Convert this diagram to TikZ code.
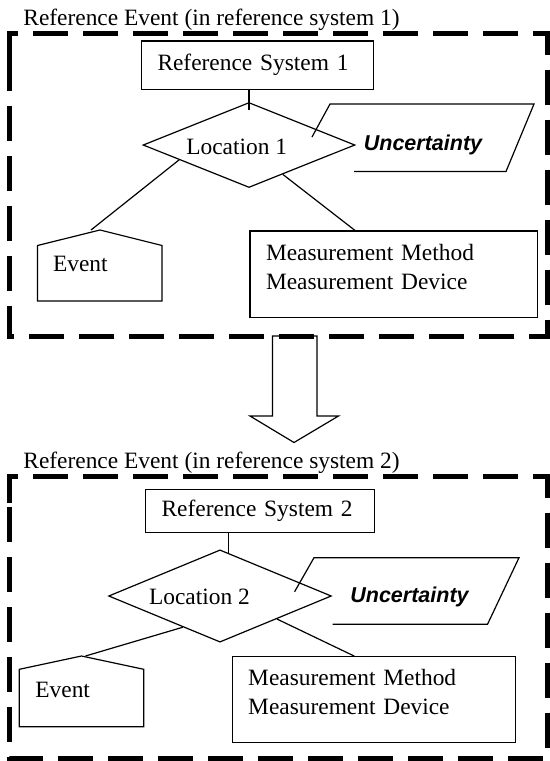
\documentclass[tikz,border=0pt]{standalone}
\usepackage{fontspec}
\setmainfont{Liberation Serif}
\newfontfamily\uncfont{Liberation Sans}
\usetikzlibrary{positioning, calc, shapes.geometric}

\tikzset{
    every node/.style={font=\fontsize{11.7}{14.25}\selectfont, inner sep=0pt},
    thinline/.style={line width=0.6pt},
    frame/.style={line width=2.5pt, dash pattern=on 17.5pt off 7.5pt},
    sysbox/.style={draw, thinline, align=left, inner xsep=8pt},
    locbox/.style={draw, thinline, diamond},
    unclabel/.style={font=\uncfont\bfseries\itshape\fontsize{10.75}{13}\selectfont},
    title/.style={anchor=base west},
}

\begin{document}
\begin{tikzpicture}[x=0.5pt, y=-0.5pt]
    \useasboundingbox (0,0) rectangle (550,761);

    % titles
    \foreach \i/\y in {1/25, 2/468.3}
        \node[title] (ttl\i) at (23,\y) {Reference Event (in reference system \i)};

    % ---- reference system 1 ----
    \node[sysbox, text width=100pt, minimum height=24.15pt] (sys1) at (257.5,65.2) {Reference System 1};
    \node[locbox, minimum width=106pt, minimum height=42.5pt] (loc1) at (249,145) {};
    \node (loc1txt) at (236.7,146.7) {Location 1};
    \draw[thinline] (sys1.south -| loc1.north) -- ([yshift=-4pt]loc1.north);

    \draw[thinline] (312,137) -- (330,104) -- (534,104) -- (506,171.5) -- (354,171.5); % uncertainty
    \node[unclabel] (unc1) at (423,145) {Uncertainty};

    \coordinate (ev1top) at (100,230); % roof of the event
    \draw[thinline] (ev1top) -- (162,245.5) -- (162,301) -- (37.5,301) -- (37.5,245.5) -- cycle;
    \node[anchor=west] (ev1) at (52.7,263.5) {Event};

    \node[sysbox, text width=127.75pt, minimum height=43.15pt, text depth=21.3pt] (meas1) at (393.75,274.15) {Measurement Method\\Measurement Device};

    % lines
    \draw[thinline] (loc1.192) -- ([xshift=-4.5pt]ev1top);
    \draw[thinline] (loc1.319) -- ([xshift=-19.4pt]meas1.north);

    % block arrow
    \draw[thinline, fill=white] (272.5,336) -- (272.5,416) -- (250,416) -- (294,442.5) -- (338.5,416) -- (317,416) -- (317,336) -- cycle;

    % ---- reference system 2 ----
    \node[sysbox, text width=98.35pt, minimum height=21.7pt] (sys2) at (259.95,511) {Reference System 2};
    \node[locbox, minimum width=111.4pt, minimum height=46.15pt] (loc2) at (220,596) {};
    \node (loc2txt) at (199.4,596.7) {Location 2};
    \coordinate (s2) at ([xshift=-15.8pt]sys2.south);
    \coordinate (loc2in) at ([yshift=-1.65pt]loc2.north);
    \draw[thinline] (s2) -- (s2 |- loc2in);

    \draw[thinline] (294.6,591.7) -- (314,557.7) -- (519,557.7) -- (487.5,624.3) -- (332.5,624.3); % uncertainty
    \node[unclabel] (unc2) at (409.5,596.7) {Uncertainty};

    \coordinate (ev2top) at (81.5,656);
    \draw[thinline] (ev2top) -- (143.8,669.3) -- (143.8,726.7) -- (19.3,726.7) -- (19.3,669.3) -- cycle;
    \node[anchor=west] (ev2) at (35,690) {Event};

    \node[sysbox, text width=125.7pt, minimum height=43pt, text depth=22pt] (meas2) at (373.9,699.7) {Measurement Method\\Measurement Device};

    % lines
    \draw[thinline] (loc2.220) -- ([xshift=2pt]ev2top);
    \draw[thinline] (loc2.338) -- ([xshift=-9.8pt]meas2.north);

    % dashed frames
    \foreach \t/\b in {33.5/336.5, 476.7/758.5}
        \draw[frame] (9.5,\t+26.5) -- (9.5,\t) -- (547,\t) -- (547,\b) -- (9.5,\b) -- cycle;
\end{tikzpicture}
\end{document}
